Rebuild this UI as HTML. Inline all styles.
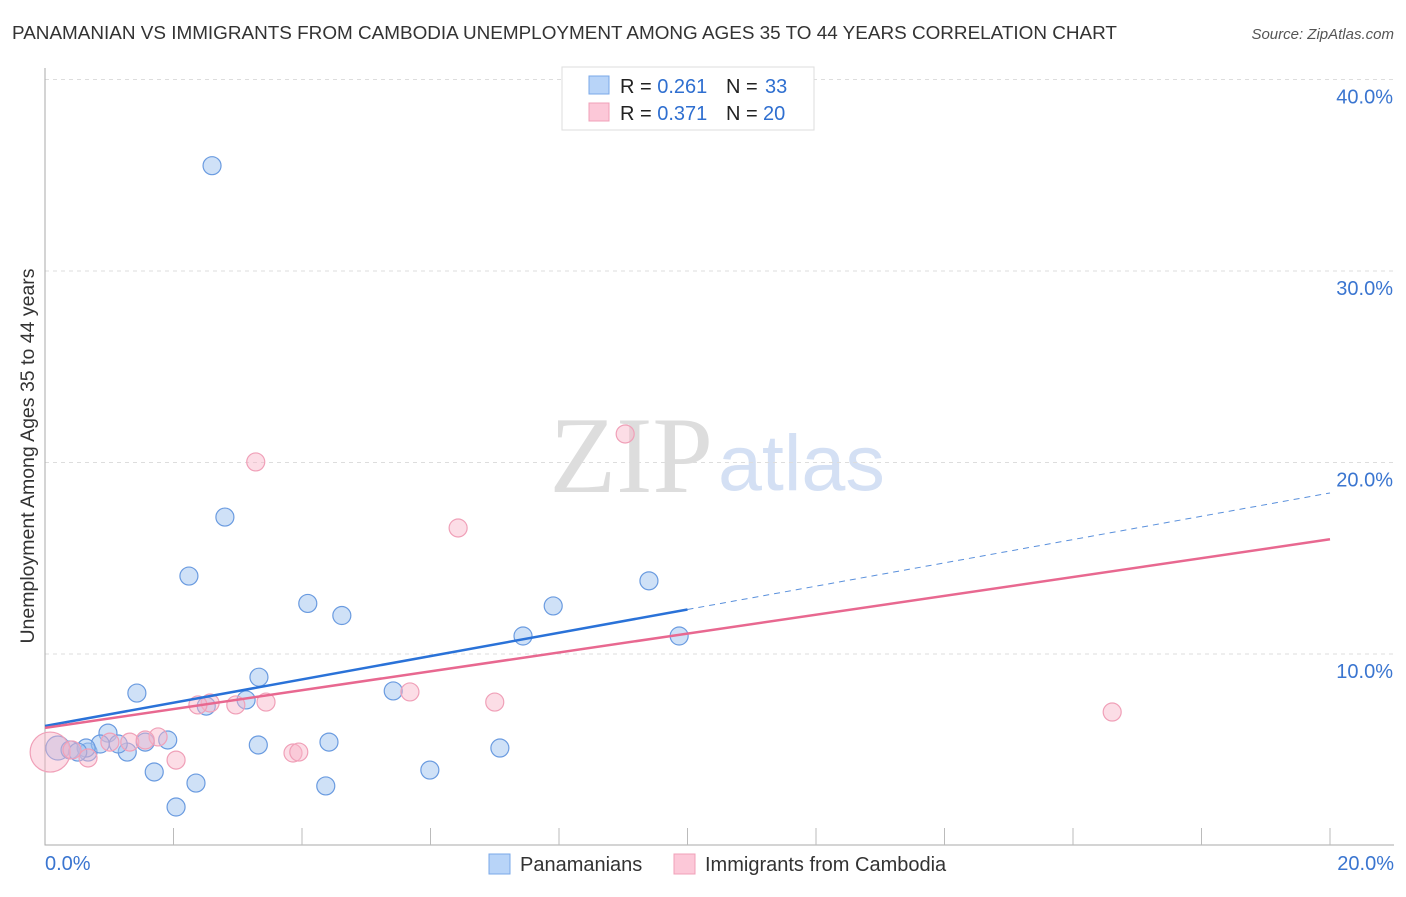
<!DOCTYPE html>
<html><head><meta charset="utf-8"><style>
body{margin:0;background:#fff;font-family:"Liberation Sans",sans-serif}
</style></head><body>
<svg id="chart" width="1406" height="892" xmlns="http://www.w3.org/2000/svg" font-family="Liberation Sans, sans-serif">
<text x="12" y="39" font-size="18.9" fill="#333">PANAMANIAN VS IMMIGRANTS FROM CAMBODIA UNEMPLOYMENT AMONG AGES 35 TO 44 YEARS CORRELATION CHART</text>
<text x="1394" y="39" font-size="15" fill="#555" text-anchor="end" font-style="italic">Source: ZipAtlas.com</text>
<text x="713" y="492" font-size="109" text-anchor="end" fill="#ddd" font-family="Liberation Serif, serif">ZIP</text>
<text x="718" y="490" font-size="79" fill="#d4e0f4">atlas</text>
<text transform="translate(34,456) rotate(-90)" font-size="19.5" fill="#333" text-anchor="middle">Unemployment Among Ages 35 to 44 years</text>
<g id="grid"></g><g id="axes"></g><g id="marks"></g>
<g>
<rect x="562" y="67" width="252" height="63" fill="#fff" stroke="#ddd"/>
<rect x="589" y="76" width="20" height="18" fill="#b8d4f8" stroke="#7aa8e8"/>
<rect x="589" y="103" width="20" height="18" fill="#fcc8d8" stroke="#f0a0b8"/>
<text x="620" y="93" font-size="20" fill="#222">R = <tspan fill="#2f6fd0">0.261</tspan></text>
<text x="726" y="93" font-size="20" fill="#222">N = <tspan fill="#2f6fd0" x="765">33</tspan></text>
<text x="620" y="120" font-size="20" fill="#222">R = <tspan fill="#2f6fd0">0.371</tspan></text>
<text x="726" y="120" font-size="20" fill="#222">N = <tspan fill="#2f6fd0" x="763">20</tspan></text>
</g>
<g>
<rect x="489" y="854" width="21" height="20" fill="#b8d4f8" stroke="#7aa8e8"/>
<text x="520" y="871" font-size="20" fill="#333">Panamanians</text>
<rect x="674" y="854" width="21" height="20" fill="#fcc8d8" stroke="#f0a0b8"/>
<text x="705" y="871" font-size="20" fill="#333">Immigrants from Cambodia</text>
</g>
</svg>
<script>
const yTicks=[10,20,30,40];
const yTickLabels=["10.0%","20.0%","30.0%","40.0%"];
const xTicks=[0,2,4,6,8,10,12,14,16,18,20];
const blueX=[2.60,2.80,2.24,1.43,4.09,4.62,3.33,2.51,3.13,0.98,0.20,0.39,0.67,0.86,1.28,1.14,1.56,1.91,1.70,2.35,2.04,3.32,4.42,4.37,5.42,5.99,7.08,7.44,7.91,9.40,9.87,0.64,0.51];
const blueY=[35.5,17.15,14.07,7.96,12.64,12.01,8.79,7.28,7.60,5.87,5.09,4.99,4.88,5.30,4.88,5.30,5.40,5.51,3.84,3.26,2.01,5.25,5.40,3.11,8.07,3.94,5.09,10.94,12.51,13.82,10.94,5.09,4.88];
const pinkX=[3.28,9.03,6.43,5.68,7.00,3.44,2.97,2.57,2.38,1.76,1.32,2.04,0.67,0.08,3.86,3.95,1.56,16.61,0.42,1.01];
const pinkY=[20.03,21.49,16.58,8.02,7.49,7.49,7.34,7.44,7.34,5.67,5.40,4.46,4.57,4.88,4.83,4.88,5.51,6.97,4.99,5.40];
const blueLine=[6.24,18.41]; const blueSolidEnd=10;
const pinkLine=[6.14,15.99];
const X=v=>45+v*64.25, Y=v=>845.5-v*19.15;
const NS="http://www.w3.org/2000/svg";
function mk(t,a,p){const e=document.createElementNS(NS,t);for(const k in a)e.setAttribute(k,a[k]);p.appendChild(e);return e;}
const grid=document.getElementById('grid'),axes=document.getElementById('axes'),marks=document.getElementById('marks');
yTicks.forEach((v,i)=>{
 const l=mk('line',{x1:45,x2:1394,y1:Y(v),y2:Y(v),stroke:'#ddd','stroke-dasharray':'4,4'},grid);
 
 
 const t=mk('text',{x:1393,y:Y(v)+24,'font-size':20,fill:'#3a75d0','text-anchor':'end'},axes);
 t.textContent=yTickLabels[i];
 
 
});
const ax=mk('path',{d:'M45,68 V845 H1394',fill:'none',stroke:'#aaa'},axes);


xTicks.slice(1).forEach(v=>{
 const l=mk('line',{x1:X(v),x2:X(v),y1:828,y2:845,stroke:'#bbb'},axes);
 
 
});
[[0,"0.0%",'start',45],[20,"20.0%",'end',1394]].forEach(a=>{
 const t=mk('text',{x:a[3],y:870,'font-size':20,fill:'#3a75d0','text-anchor':a[2]},axes);
 t.textContent=a[1];
 
 
});
function pts(xs,ys,fill,stroke,name){xs.forEach((x,i)=>{
 const r=(name==='pink-point'&&i===13)?20:(name==='blue-point'&&i===10?12:9);
 const c=mk('circle',{cx:X(x),cy:Y(ys[i]),r:r,fill:fill,stroke:stroke,'stroke-width':1.2},marks);
 
 
});}
pts(blueX,blueY,'rgba(160,196,240,0.5)','#6a9be0','blue-point');
pts(pinkX,pinkY,'rgba(248,180,200,0.45)','#f0a0b8','pink-point');
const by=v=>blueLine[0]+(blueLine[1]-blueLine[0])*v/20;
let l=mk('line',{x1:X(0),y1:Y(by(0)),x2:X(blueSolidEnd),y2:Y(by(blueSolidEnd)),stroke:'#2a72d8','stroke-width':2.5},marks);


l=mk('line',{x1:X(blueSolidEnd),y1:Y(by(blueSolidEnd)),x2:X(20),y2:Y(by(20)),stroke:'#5a90dc','stroke-width':1,'stroke-dasharray':'6,5'},marks);


l=mk('line',{x1:X(0),y1:Y(pinkLine[0]),x2:X(20),y2:Y(pinkLine[1]),stroke:'#e86890','stroke-width':2.5},marks);


</script>
</body></html>
